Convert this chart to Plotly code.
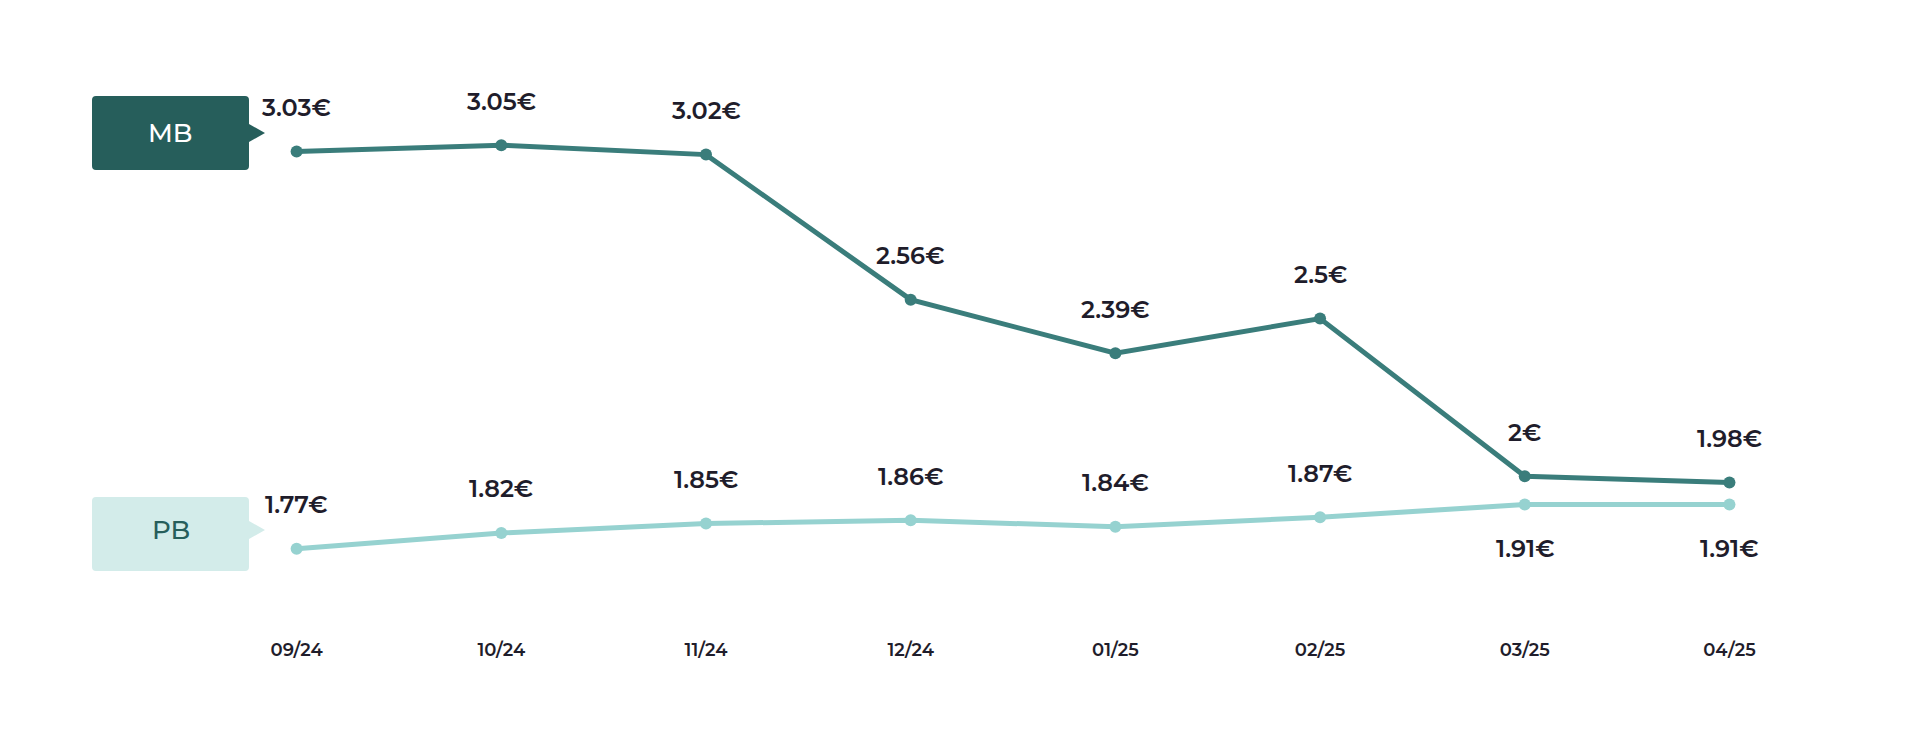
import plotly.graph_objects as go

months = ["09/24", "10/24", "11/24", "12/24", "01/25", "02/25", "03/25", "04/25"]
mb = [3.03, 3.05, 3.02, 2.56, 2.39, 2.5, 2.0, 1.98]
pb = [1.77, 1.82, 1.85, 1.86, 1.84, 1.87, 1.91, 1.91]
pb_label_below = [False, False, False, False, False, False, True, True]

W, H = 1920, 729
MB_C, PB_C = "#3a7d7b", "#96d2d0"
DARK, LIGHT = "#265e5b", "#d3ecea"
TXT = "#1f1d2b"
FONT = "Montserrat, Open Sans, sans-serif"
B = 100  # bottom margin
PH = H - B


def px_x(p):
    return p / W


def px_y(p):
    return (PH - p) / PH


fig = go.Figure()
fig.add_trace(go.Scatter(x=list(range(len(months))), y=mb, mode="lines+markers",
                         line=dict(color=MB_C, width=5), marker=dict(size=12, color=MB_C)))
fig.add_trace(go.Scatter(x=list(range(len(months))), y=pb, mode="lines+markers",
                         line=dict(color=PB_C, width=5), marker=dict(size=12, color=PB_C)))

anns = []
for i, v in enumerate(mb):
    anns.append(dict(x=i, y=v, text=f"{v:g}€", showarrow=False, yshift=44,
                     font=dict(size=24, color=TXT, family=FONT, weight=600)))
for i, v in enumerate(pb):
    anns.append(dict(x=i, y=v, text=f"{v:g}€", showarrow=False,
                     yshift=-44 if pb_label_below[i] else 44,
                     font=dict(size=24, color=TXT, family=FONT, weight=600)))

# series tags on the left
shapes = []
for (top, bot, mid, fill, tcol, name) in [(88, 162, 125, DARK, "white", "MB"),
                                          (489, 563, 522, LIGHT, DARK, "PB")]:
    x0, x1, r = 84, 241, 4
    path = (f"M {px_x(x0 + r)},{px_y(top)} L {px_x(x1 - r)},{px_y(top)} "
            f"Q {px_x(x1)},{px_y(top)} {px_x(x1)},{px_y(top + r)} "
            f"L {px_x(x1)},{px_y(mid - 9)} L {px_x(x1 + 16)},{px_y(mid)} L {px_x(x1)},{px_y(mid + 9)} "
            f"L {px_x(x1)},{px_y(bot - r)} Q {px_x(x1)},{px_y(bot)} {px_x(x1 - r)},{px_y(bot)} "
            f"L {px_x(x0 + r)},{px_y(bot)} Q {px_x(x0)},{px_y(bot)} {px_x(x0)},{px_y(bot - r)} "
            f"L {px_x(x0)},{px_y(top + r)} Q {px_x(x0)},{px_y(top)} {px_x(x0 + r)},{px_y(top)} Z")
    shapes.append(dict(type="path", xref="paper", yref="paper", path=path,
                       fillcolor=fill, line=dict(width=0), layer="below"))
    anns.append(dict(xref="paper", yref="paper", x=px_x((x0 + x1) / 2), y=px_y(mid),
                     xanchor="center", yanchor="middle", text=name, showarrow=False,
                     font=dict(size=26, color=tcol, family=FONT, weight=500)))

fig.update_layout(
    width=W, height=H, plot_bgcolor="white", paper_bgcolor="white",
    margin=dict(l=0, r=0, t=0, b=B), showlegend=False,
    annotations=anns, shapes=shapes,
    xaxis=dict(range=[-1.41, 7.97], tickvals=list(range(len(months))), ticktext=months,
               showgrid=False, zeroline=False, showline=False,
               tickfont=dict(size=18, color=TXT, family=FONT, weight=600)),
    yaxis=dict(range=[1.49, 3.485], visible=False),
)

fig.write_html("out.html")
